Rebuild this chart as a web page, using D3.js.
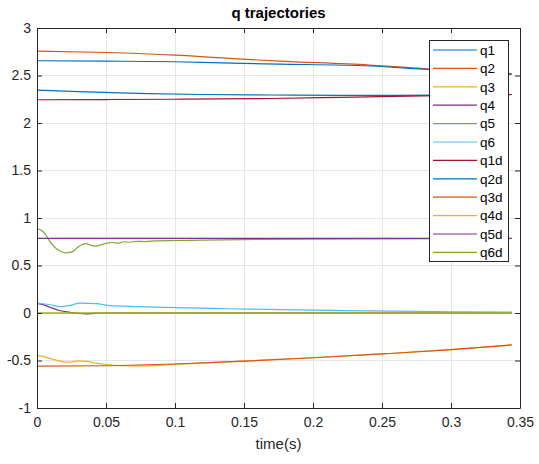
<!DOCTYPE html>
<html>
<head>
<meta charset="utf-8">
<script src="https://cdn.jsdelivr.net/npm/d3@7"></script>
<style>
  html, body { margin: 0; padding: 0; background: #fff; }
  svg { display: block; font-family: "Liberation Sans", Arial, Helvetica, sans-serif; }
</style>
</head>
<body>
<svg id="chart" width="539" height="464"></svg>
<script>
// ---------- data ----------
const title = "q trajectories";
const xLabel = "time(s)";
const xTicks = [0, 0.05, 0.1, 0.15, 0.2, 0.25, 0.3, 0.35];
const xTickLabels = ["0", "0.05", "0.1", "0.15", "0.2", "0.25", "0.3", "0.35"];
const yTicks = [-1, -0.5, 0, 0.5, 1, 1.5, 2, 2.5, 3];
const yTickLabels = ["-1", "-0.5", "0", "0.5", "1", "1.5", "2", "2.5", "3"];

const seriesNames = ["q1", "q2", "q3", "q4", "q5", "q6", "q1d", "q2d", "q3d", "q4d", "q5d", "q6d"];
const seriesColors = ["#0072BD", "#D95319", "#EDB120", "#7E2F8E", "#77AC30", "#4DBEEE",
                      "#A2142F", "#0072BD", "#D95319", "#EDB120", "#7E2F8E", "#77AC30"];

// [time, value] samples per series
const q1 = [[0,2.346],[0.03,2.33],[0.08,2.31],[0.12,2.30],[0.17,2.295],[0.22,2.29],[0.26,2.29],[0.30,2.295],[0.344,2.30]];
const q2 = [[0,2.757],[0.05,2.742],[0.1,2.715],[0.149,2.672],[0.176,2.652],[0.241,2.61],[0.283,2.57],[0.344,2.52]];
const q3 = [[0,-0.447],[0.005,-0.46],[0.01,-0.48],[0.0215,-0.518],[0.031,-0.504],[0.037,-0.512],[0.043,-0.528],[0.05,-0.542],[0.06,-0.553],[0.08,-0.556],[0.1,-0.54],[0.15,-0.507],[0.2,-0.471],[0.25,-0.431],[0.3,-0.386],[0.344,-0.336]];
const q4 = [[0,0.1],[0.005,0.085],[0.0094,0.06],[0.0167,0.024],[0.024,0.008],[0.03,-0.004],[0.035,-0.01],[0.042,-0.004],[0.05,0.0],[0.1,0.0],[0.2,0.0],[0.344,0.0]];
const q5 = [[0,0.89],[0.003,0.87],[0.006,0.83],[0.009,0.76],[0.013,0.69],[0.017,0.65],[0.021,0.633],[0.025,0.64],[0.0285,0.68],[0.032,0.715],[0.0355,0.73],[0.039,0.712],[0.043,0.705],[0.047,0.72],[0.051,0.735],[0.055,0.742],[0.059,0.736],[0.063,0.75],[0.067,0.745],[0.072,0.755],[0.078,0.752],[0.086,0.76],[0.1,0.763],[0.12,0.768],[0.15,0.773],[0.2,0.778],[0.25,0.781],[0.3,0.783],[0.344,0.784]];
const q6 = [[0,0.105],[0.0094,0.087],[0.0167,0.066],[0.024,0.08],[0.031,0.104],[0.043,0.098],[0.053,0.077],[0.075,0.068],[0.101,0.056],[0.14,0.045],[0.176,0.035],[0.22,0.026],[0.26,0.019],[0.3,0.013],[0.344,0.009]];
const q1d = [[0,2.245],[0.05,2.247],[0.1,2.25],[0.17,2.258],[0.22,2.27],[0.28,2.285],[0.344,2.30]];
const q2d = [[0,2.655],[0.05,2.651],[0.1,2.645],[0.149,2.627],[0.176,2.62],[0.241,2.60],[0.283,2.563],[0.344,2.512]];
const q3d = [[0,-0.56],[0.05,-0.555],[0.1,-0.537],[0.15,-0.507],[0.2,-0.471],[0.25,-0.431],[0.3,-0.386],[0.344,-0.336]];
const q4d = [[0,0],[0.344,0]];
const q5d = [[0,0.785],[0.344,0.785]];
const q6d = [[0,0],[0.344,0]];

const seriesData = [q1, q2, q3, q4, q5, q6, q1d, q2d, q3d, q4d, q5d, q6d];

// ---------- layout ----------
(function () {
const svg = d3.select("#chart");
const pLeft = 37, pRight = 520, pTop = 28, pBottom = 408;
const axisColor = "#262626";

const x = d3.scaleLinear().domain([0, 0.35]).range([pLeft, pRight]);
const y = d3.scaleLinear().domain([-1, 3]).range([pBottom, pTop]);

svg.append("rect").attr("x", 0).attr("y", 0).attr("width", 539).attr("height", 464).attr("fill", "#fff");

// grid
const grid = svg.append("g");
grid.selectAll("line.gx").data(xTicks.slice(1, -1)).join("line")
  .attr("x1", d => x(d)).attr("x2", d => x(d)).attr("y1", pTop).attr("y2", pBottom)
  .attr("stroke", "#e6e6e6").attr("stroke-width", 1).attr("shape-rendering", "crispEdges");
grid.selectAll("line.gy").data(yTicks.slice(1, -1)).join("line")
  .attr("y1", d => y(d)).attr("y2", d => y(d)).attr("x1", pLeft).attr("x2", pRight)
  .attr("stroke", "#e6e6e6").attr("stroke-width", 1).attr("shape-rendering", "crispEdges");

// series lines
const line = d3.line().x(d => x(d[0])).y(d => y(d[1])).curve(d3.curveMonotoneX);
const plot = svg.append("g");
seriesData.forEach((s, i) => {
  plot.append("path").datum(s)
    .attr("d", line)
    .attr("fill", "none")
    .attr("stroke", seriesColors[i])
    .attr("stroke-width", 1.2)
    .attr("stroke-linejoin", "round");
});

// axes (box with inward ticks)
const xAxisB = d3.axisBottom(x).tickValues(xTicks).tickFormat((d, i) => xTickLabels[i]).tickSizeInner(-5).tickSizeOuter(0).tickPadding(9);
const xAxisT = d3.axisTop(x).tickValues(xTicks).tickFormat("").tickSizeInner(-5).tickSizeOuter(0);
const yAxisL = d3.axisLeft(y).tickValues(yTicks).tickFormat((d, i) => yTickLabels[i]).tickSizeInner(-5).tickSizeOuter(0).tickPadding(6);
const yAxisR = d3.axisRight(y).tickValues(yTicks).tickFormat("").tickSizeInner(-5).tickSizeOuter(0);

function styleAxis(g) {
  g.select(".domain").attr("stroke", axisColor).attr("stroke-width", 1);
  g.selectAll(".tick line").attr("stroke", axisColor).attr("stroke-width", 1);
  g.selectAll(".tick text").attr("fill", axisColor).style("font-size", "14px")
    .style("font-family", "'Liberation Sans', Arial, Helvetica, sans-serif");
}
svg.append("g").attr("transform", `translate(0,${pBottom})`).call(xAxisB).call(styleAxis);
svg.append("g").attr("transform", `translate(0,${pTop})`).call(xAxisT).call(styleAxis);
svg.append("g").attr("transform", `translate(${pLeft},0)`).call(yAxisL).call(styleAxis);
svg.append("g").attr("transform", `translate(${pRight},0)`).call(yAxisR).call(styleAxis);

// title and label
svg.append("text").attr("x", (pLeft + pRight) / 2).attr("y", 18)
  .attr("text-anchor", "middle").attr("fill", "#000")
  .style("font-size", "15px").style("font-weight", "bold").text(title);
svg.append("text").attr("x", (pLeft + pRight) / 2).attr("y", 449)
  .attr("text-anchor", "middle").attr("fill", axisColor)
  .style("font-size", "15px").text(xLabel);

// legend
const lg = svg.append("g");
const lgX = 429, lgY = 40, lgW = 79, lgH = 221, lgStep = 18.4;
lg.append("rect").attr("x", lgX + 0.5).attr("y", lgY + 0.5).attr("width", lgW).attr("height", lgH)
  .attr("fill", "#fff").attr("stroke", axisColor).attr("stroke-width", 1);
seriesNames.forEach((n, i) => {
  const yy = lgY + 10 + i * lgStep;
  lg.append("line").attr("x1", lgX + 4).attr("x2", lgX + 48).attr("y1", yy).attr("y2", yy)
    .attr("stroke", seriesColors[i]).attr("stroke-width", 1.2);
  lg.append("text").attr("x", lgX + 51).attr("y", yy).attr("dy", "0.35em")
    .attr("fill", "#000").style("font-size", "13.5px").text(n);
});
})();
</script>
</body>
</html>
